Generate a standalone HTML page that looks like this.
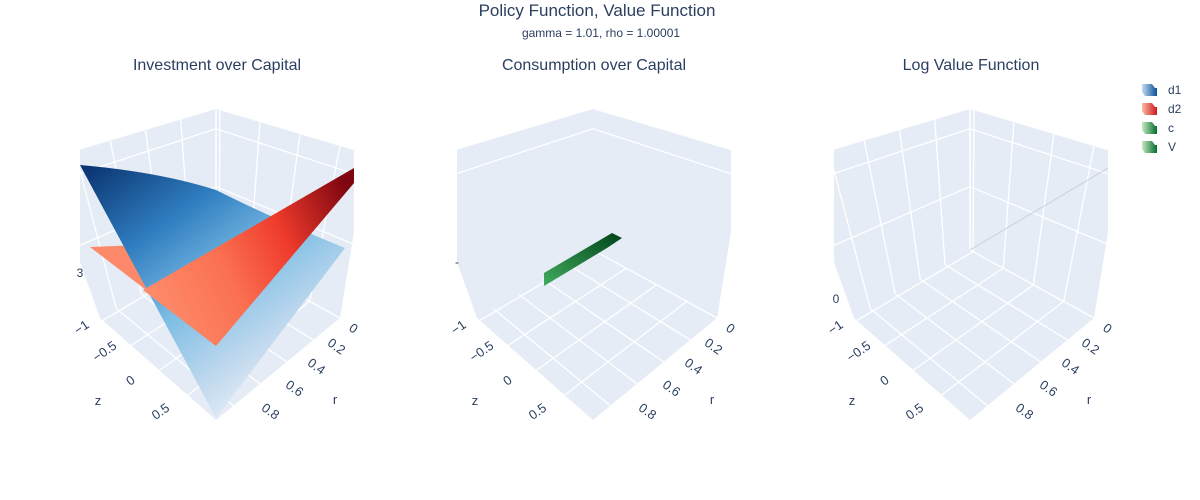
<!DOCTYPE html>
<html><head><meta charset="utf-8"><style>
body{margin:0;background:#fff;}
svg{display:block;font-family:"Liberation Sans",Arial,sans-serif;}
</style></head><body>
<svg id="chart" width="1200" height="500" viewBox="0 0 1200 500">
<defs>
<linearGradient id="gblue" x1="0" y1="0" x2="0.75" y2="1">
<stop offset="0" stop-color="#08306b"/><stop offset="0.3" stop-color="#2f7dc0"/><stop offset="0.55" stop-color="#7dbde4"/><stop offset="0.8" stop-color="#c6dbef"/><stop offset="1" stop-color="#f7fbff"/></linearGradient>
<linearGradient id="gred" x1="0" y1="0.6" x2="1" y2="0.2">
<stop offset="0" stop-color="#fc8a6a"/><stop offset="0.35" stop-color="#fb7050"/><stop offset="0.65" stop-color="#ef3b2c"/><stop offset="1" stop-color="#7f0610"/></linearGradient>
<linearGradient id="ggreen" x1="0" y1="1" x2="1" y2="0">
<stop offset="0" stop-color="#41ab5d"/><stop offset="1" stop-color="#00441b"/></linearGradient>
<linearGradient id="lb" x1="0" x2="1"><stop offset="0" stop-color="#c6dbef"/><stop offset="1" stop-color="#08519c"/></linearGradient>
<linearGradient id="lr" x1="0" x2="1"><stop offset="0" stop-color="#fcbba1"/><stop offset="1" stop-color="#cb181d"/></linearGradient>
<linearGradient id="lg" x1="0" x2="1"><stop offset="0" stop-color="#c7e9c0"/><stop offset="1" stop-color="#006d2c"/></linearGradient>
<clipPath id="c0"><rect x="80" y="95" width="274" height="325"/></clipPath>
<clipPath id="c1"><rect x="457" y="95" width="274" height="325"/></clipPath>
<clipPath id="c2"><rect x="834" y="95" width="274" height="325"/></clipPath>
</defs>
<text x="597" y="16" text-anchor="middle" font-size="17" fill="#2a3f5f">Policy Function, Value Function</text>
<text x="601" y="37" text-anchor="middle" font-size="12" fill="#2a3f5f">gamma = 1.01, rho = 1.00001</text>
<g id="scenes"></g>
<g id="legend"></g>
</svg>
<script>
const sceneTitles = ["Investment over Capital","Consumption over Capital","Log Value Function"];
const zTicks = [-1,-0.5,0,0.5];
const rTicks = [0,0.2,0.4,0.6,0.8];
const seriesNames = ["d1","d2","c","V"];
const zRange = [-1.05,1.0];
const rRange = [0,0.93];
const NS="http://www.w3.org/2000/svg";
const offsets=[0,377,754];
function mk(tag,attrs,parent){const e=document.createElementNS(NS,tag);for(const k in attrs)e.setAttribute(k,attrs[k]);parent.appendChild(e);return e;}
function lerp(a,b,t){return [a[0]+(b[0]-a[0])*t,a[1]+(b[1]-a[1])*t];}
const root=document.getElementById('scenes');
sceneTitles.forEach((title,i)=>{
  const o=offsets[i];
  const g=mk('g',{},root);
  
  
  const t=mk('text',{x:217+o,y:70,'text-anchor':'middle','font-size':16,fill:'#2a3f5f'},g);
  t.textContent=title;
  
  
  const cg=mk('g',{'clip-path':'url(#c'+i+')'},g);
  const P=(x,y)=>[x+o,y];
  const B=P(216,250),L=P(100,318),R=P(340,318),F=P(216,420);
  const TB=P(216,109),TL=P(52,158),TR=P(380,158);
  const box=[P(52,158),P(216,109),P(380,158),P(354,232),P(340,318),F,L,P(80,262)];
  const bx=mk('polygon',{points:box.map(p=>p.join(',')).join(' '),fill:'#e5ecf6'},cg);
  
  
  const line=(a,b,w)=>mk('line',{x1:a[0],y1:a[1],x2:b[0],y2:b[1],stroke:'#fff','stroke-width':w||1.3},cg);
  const zf=v=>(v-zRange[0])/(zRange[1]-zRange[0]);
  const rf=v=>(v-rRange[0])/(rRange[1]-rRange[0]);
  zTicks.forEach(v=>{const f=zf(v);line(lerp(L,F,f),lerp(B,R,f));});
  rTicks.forEach(v=>{const f=rf(v);line(lerp(R,F,f),lerp(B,L,f));});
  rTicks.forEach(v=>{const f=rf(v);if(i!==1)line(lerp(B,L,f),lerp(TB,TL,f));});
  zTicks.forEach(v=>{const f=zf(v);if(i!==1)line(lerp(B,R,f),lerp(TB,TR,f));});
  if(i!==1) line(B,TB);
  const hts = i===1?[0.86]:[0.86,0.45];
  hts.forEach(h=>{line(lerp(L,TL,h),lerp(B,TB,h));line(lerp(B,TB,h),lerp(R,TR,h));});
  if(i===2){mk('line',{x1:970,y1:250,x2:1108,y2:168,stroke:'#c8d0da','stroke-width':1},cg);}
  if(i===0){
    const s1=mk('polygon',{points:'90,247 142,245 146,290',fill:'#fc8a6a'},cg);
    
    const b=mk('path',{d:'M80,165 Q160,172 216,190 Q280,222 345,248 L216,418 Z',fill:'url(#gblue)'},cg);
    
    const r=mk('polygon',{points:'143,290 354,168 354,183 216,346',fill:'url(#gred)'},cg);
    
  }
  if(i===1){
    const s=mk('polygon',{points:'544,273 612,233 622,238 607,248 544,286',fill:'url(#ggreen)'},cg);
    
  }
  const zl=[[84,331],[107,355],[133,384],[163,415]];
  zTicks.forEach((v,k)=>{const p=P(zl[k][0],zl[k][1]);const tx=mk('text',{x:p[0],y:p[1],'font-size':13,fill:'#2a3f5f','text-anchor':'middle',transform:`rotate(-35 ${p[0]} ${p[1]})`},g);tx.textContent=v<0?'\u2212'+Math.abs(v):String(v);
    });
  const rl=[[351,332],[334,350],[314,370],[292,392],[268,415]];
  rTicks.forEach((v,k)=>{const p=P(rl[k][0],rl[k][1]);const tx=mk('text',{x:p[0],y:p[1],'font-size':13,fill:'#2a3f5f','text-anchor':'middle',transform:`rotate(35 ${p[0]} ${p[1]})`},g);tx.textContent=String(v);
    });
  const za=P(98,405),ra=P(335,404);
  const zt=mk('text',{x:za[0],y:za[1],'font-size':13,fill:'#2a3f5f','text-anchor':'middle'},g);zt.textContent='z';
  
  const rt=mk('text',{x:ra[0],y:ra[1],'font-size':13,fill:'#2a3f5f','text-anchor':'middle'},g);rt.textContent='r';
  
  const vl=[['3',80,277],['-',457,266],['0',836,303]][i];
  const vt=mk('text',{x:vl[1],y:vl[2],'font-size':12,fill:'#2a3f5f','text-anchor':'middle'},g);vt.textContent=vl[0];
  
});
const lg=document.getElementById('legend');
const fills=['url(#lb)','url(#lr)','url(#lg)','url(#lg)'];
seriesNames.forEach((n,k)=>{
  const y=90+k*19;
  const e=mk('g',{},lg);
  
  
  mk('path',{d:`M1142,${y-6} h10 l3,4 h2 l0,8 h-12 l-3,-4 z`,fill:fills[k]},e);
  const t=mk('text',{x:1168,y:y+4,'font-size':12,fill:'#2a3f5f'},e);t.textContent=n;
});
</script>
</body></html>
